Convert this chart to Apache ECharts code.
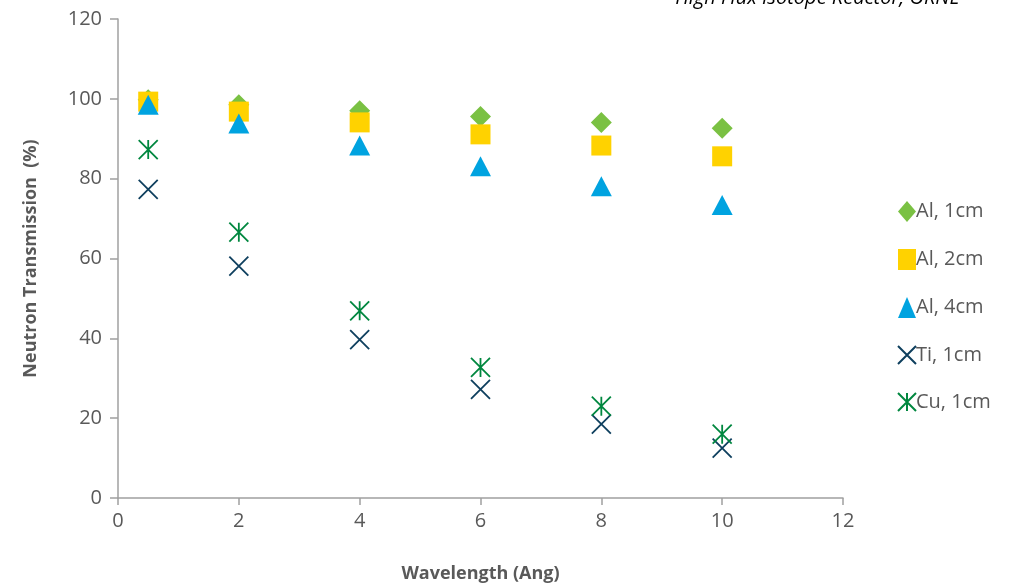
<!DOCTYPE html>
<html>
<head>
<meta charset="utf-8">
<script src="https://cdn.jsdelivr.net/npm/echarts@6/dist/echarts.min.js"></script>
<style>html,body{margin:0;padding:0;background:#fff}#c{width:1019px;height:588px}</style>
</head>
<body>
<div id="c"></div>
<script>
const wavelengths = [0.5, 2, 4, 6, 8, 10];
const al1cm = [99.8, 98.5, 97.0, 95.6, 94.1, 92.6];
const al2cm = [99.3, 96.8, 94.1, 91.1, 88.3, 85.6];
const al4cm = [98.5, 93.8, 88.3, 83.1, 78.1, 73.4];
const ti1cm = [77.3, 58.1, 39.7, 27.2, 18.5, 12.5];
const cu1cm = [87.3, 66.6, 46.9, 32.7, 23.0, 16.0];
const seriesNames = ['Al, 1cm', 'Al, 2cm', 'Al, 4cm', 'Ti, 1cm', 'Cu, 1cm'];
const titleText = 'High Flux Isotope Reactor, ORNL';

const FONT = '"Open Sans", sans-serif';
const pair = ys => wavelengths.map((x, i) => [x, ys[i]]);
const xPath = 'path://M0,0L10,10M10,0L0,10';
const starPath = 'path://M0,0L10,10M10,0L0,10M5,0L5,10';

const chart = echarts.init(document.getElementById('c'), null, {renderer: 'canvas'});
chart.setOption({
  animation: false,
  backgroundColor: '#fff',
  grid: {left: 118, right: 176, top: 19, bottom: 88},
  graphic: [{
    type: 'text', right: 60, top: -12,
    style: {text: titleText, font: 'italic 20px ' + FONT, fill: '#000'}
  }],
  legend: {
    orient: 'vertical', left: 892, top: 196, itemGap: 27,
    itemWidth: 18, itemHeight: 21, itemStyle: {},
    textStyle: {fontFamily: FONT, fontSize: 20, color: '#595959', padding: [0, 0, 0, -5]},
    data: seriesNames
  },
  xAxis: {
    type: 'value', min: 0, max: 12, interval: 2,
    name: 'Wavelength (Ang)', nameLocation: 'middle', nameGap: 67,
    nameTextStyle: {fontFamily: FONT, fontSize: 18, fontWeight: 'bold', color: '#595959'},
    axisLine: {lineStyle: {color: '#a0a0a0', width: 1.5}},
    axisTick: {show: true, length: 7, lineStyle: {color: '#a0a0a0', width: 1.5}},
    axisLabel: {fontFamily: FONT, fontSize: 20, color: '#595959', margin: 13},
    splitLine: {show: false}
  },
  yAxis: {
    type: 'value', min: 0, max: 120, interval: 20,
    name: 'Neutron Transmission  (%)', nameLocation: 'middle', nameGap: 78,
    nameTextStyle: {fontFamily: FONT, fontSize: 18, fontWeight: 'bold', color: '#595959'},
    axisLine: {show: true, lineStyle: {color: '#a0a0a0', width: 1.5}},
    axisTick: {show: true, inside: false, length: 8, lineStyle: {color: '#a0a0a0', width: 1.5}},
    axisLabel: {fontFamily: FONT, fontSize: 20, color: '#595959', margin: 16},
    splitLine: {show: false}
  },
  series: [
    {name: seriesNames[0], type: 'scatter', data: pair(al1cm), symbol: 'diamond', symbolSize: [21, 21],
     itemStyle: {color: '#7ac143', opacity: 1}},
    {name: seriesNames[1], type: 'scatter', data: pair(al2cm), symbol: 'rect', symbolSize: [20, 20],
     itemStyle: {color: '#ffd200', opacity: 1}},
    {name: seriesNames[2], type: 'scatter', data: pair(al4cm), symbol: 'triangle', symbolSize: [21, 20],
     itemStyle: {color: '#00a3e0', opacity: 1}},
    {name: seriesNames[3], type: 'scatter', data: pair(ti1cm), symbol: xPath, symbolSize: [19, 19],
     itemStyle: {color: 'rgba(0,0,0,0)', borderColor: '#0e3f5e', borderWidth: 1.8, opacity: 1}},
    {name: seriesNames[4], type: 'scatter', data: pair(cu1cm), symbol: starPath, symbolSize: [19, 19],
     itemStyle: {color: 'rgba(0,0,0,0)', borderColor: '#00873f', borderWidth: 1.8, opacity: 1}}
  ]
});
</script>
</body>
</html>
